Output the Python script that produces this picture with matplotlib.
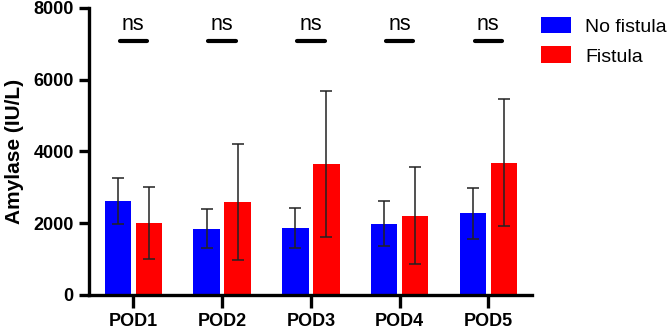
import matplotlib.pyplot as plt
import numpy as np

plt.rcParams['font.family'] = ['Liberation Sans', 'DejaVu Sans']

days = ["POD1", "POD2", "POD3", "POD4", "POD5"]
no_fistula = [2620, 1850, 1870, 1990, 2280]
no_fistula_err = [650, 540, 565, 630, 710]
fistula = [2015, 2590, 3650, 2210, 3690]
fistula_err = [1000, 1630, 2030, 1360, 1775]
sig = ["ns", "ns", "ns", "ns", "ns"]

fig = plt.figure(figsize=(6.69, 3.31), dpi=100)
ax = fig.add_axes([0.133, 0.109, 0.662, 0.867])

x = np.arange(len(days))
w = 0.3
off = 0.175
ax.bar(x - off, no_fistula, w, color='#0000ff', label='No fistula')
ax.bar(x + off, fistula, w, color='#ff0000', label='Fistula')
ax.errorbar(x - off, no_fistula, yerr=no_fistula_err, fmt='none', ecolor='#222222',
            elinewidth=1.1, capsize=4, capthick=1.1)
ax.errorbar(x + off, fistula, yerr=fistula_err, fmt='none', ecolor='#222222',
            elinewidth=1.1, capsize=4, capthick=1.1)

# significance markers
for i, s in enumerate(sig):
    ax.plot([i - off + 0.02, i + off - 0.02], [7080, 7080], color='black', lw=3,
            solid_capstyle='round')
    ax.text(i, 7250, s, ha='center', va='bottom', fontsize=15.5)

ax.set_xlim(-0.5, 4.49)
ax.set_ylim(0, 8000)
ax.set_yticks([0, 2000, 4000, 6000, 8000])
ax.set_xticks(x)
ax.set_xticklabels(days, fontsize=13, fontweight='bold')
for label in ax.get_yticklabels():
    label.set_fontsize(13)
    label.set_fontweight('bold')
ax.set_ylabel("Amylase (IU/L)", fontsize=15, fontweight='bold', labelpad=7)

for sp in ['top', 'right']:
    ax.spines[sp].set_visible(False)
for sp in ['left', 'bottom']:
    ax.spines[sp].set_linewidth(2.4)
ax.tick_params(axis='y', width=2.4, length=7, pad=4)
ax.tick_params(axis='x', width=2.4, length=9, pad=4)

ax.legend(loc='upper left', bbox_to_anchor=(1.0, 1.0), frameon=False, fontsize=14,
          handlelength=1.55, handleheight=0.95, handletextpad=0.75,
          labelspacing=0.55, borderaxespad=0.0, borderpad=0.45)

fig.savefig('out.png', dpi=100)
